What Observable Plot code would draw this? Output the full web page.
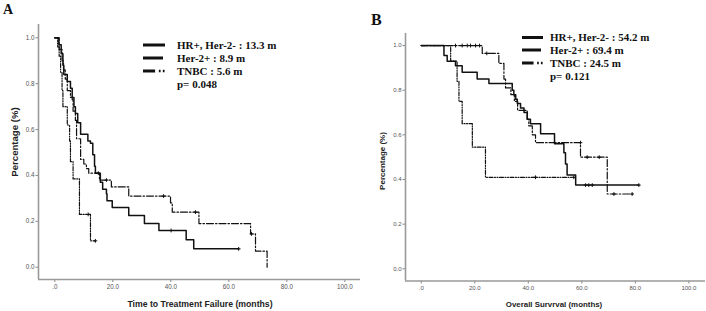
<!DOCTYPE html>
<html><head><meta charset="utf-8">
<script src="https://cdn.jsdelivr.net/npm/d3@7"></script>
<script src="https://cdn.jsdelivr.net/npm/@observablehq/plot@0.6"></script>
<style>
body{margin:0;background:#fff;}
#wrap{position:relative;width:706px;height:311px;overflow:hidden;background:#fff;}
.panel{position:absolute;top:0;}
.serif{position:absolute;font-family:"Liberation Serif","Times New Roman",serif;font-weight:bold;color:#111;white-space:nowrap;line-height:1;}
.sans{position:absolute;font-family:"Liberation Sans",Arial,sans-serif;font-weight:bold;color:#222;white-space:nowrap;line-height:1;}
</style></head><body><div id="wrap"></div>
<script>
// ---------- data ----------
const seriesNames = ["HR+, Her-2-", "Her-2+", "TNBC"];
const ttfMedians = ["13.3 m", "8.9 m", "5.6 m"];
const ttfP = "p= 0.048";
const osMedians = ["54.2 m", "69.4 m", "24.5 m"];
const osP = "p= 0.121";
const xTicks = [0, 20, 40, 60, 80, 100];
const yTicks = [0, 0.2, 0.4, 0.6, 0.8, 1.0];
const ttfTitle = "Time to Treatment Failure (months)";
const osTitle = "Overall Survrval (months)";
const yTitle = "Percentage (%)";

// Time to treatment failure: [month, survival] steps, last entry = end of follow-up
const ttfHR = [[0,1],[1.4,0.97],[2.2,0.93],[2.8,0.88],[3.1,0.84],[4.3,0.81],[5.4,0.78],[6.0,0.74],[6.6,0.70],[7.1,0.67],[7.9,0.63],[8.9,0.58],[11.4,0.55],[12.3,0.54],[13.1,0.49],[13.7,0.44],[14.0,0.41],[15.7,0.37],[16.5,0.34],[17.8,0.32],[18.0,0.29],[19.8,0.26],[25.5,0.225],[30.9,0.19],[35.9,0.16],[45.3,0.12],[47.9,0.08],[63.4,0.08]];
const ttfHer2 = [[0,1],[1.5,0.95],[2.5,0.9],[3.0,0.86],[3.6,0.82],[4.3,0.77],[5.4,0.74],[6.0,0.73],[6.3,0.68],[7.1,0.64],[7.5,0.56],[8.9,0.47],[10.0,0.45],[10.9,0.43],[11.7,0.41],[15.4,0.38],[19.5,0.35],[25.5,0.31],[39.9,0.28],[40.5,0.24],[49.7,0.19],[67.5,0.145],[69.2,0.07],[73.2,0.0],[73.2,0.0]];
const ttfTNBC = [[0,1],[1.0,0.96],[1.5,0.92],[2.0,0.85],[2.5,0.77],[2.8,0.70],[4.3,0.62],[5.1,0.55],[5.4,0.46],[6.3,0.385],[8.5,0.23],[12.3,0.115],[14.0,0.115]];
const ttfHRCens = [[40.1,0.16],[63.4,0.08]];
const ttfHer2Cens = [[15.0,0.41],[17.8,0.38],[37.5,0.31],[48.5,0.24],[67.8,0.145]];
const ttfTNBCCens = [[11.5,0.23],[14.0,0.115]];

// Overall survival
const osHR = [[0,1],[8.5,0.955],[9.7,0.93],[12.8,0.91],[15.3,0.88],[20.9,0.85],[25.3,0.83],[34.0,0.80],[34.6,0.78],[35.3,0.76],[35.9,0.74],[37.1,0.72],[38.4,0.70],[39.6,0.67],[40.8,0.65],[44.6,0.605],[49.8,0.56],[53.3,0.52],[53.9,0.47],[54.5,0.42],[57.7,0.375],[81.3,0.375]];
const osHer2 = [[0,1],[22.8,0.965],[29.0,0.92],[30.9,0.85],[31.5,0.81],[33.5,0.78],[34.8,0.75],[36.0,0.71],[39.6,0.67],[40.2,0.64],[41.5,0.60],[42.7,0.565],[59.5,0.50],[69.5,0.335],[78.8,0.335]];
const osTNBC = [[0,1],[11.0,0.93],[13.4,0.84],[14.1,0.75],[15.3,0.65],[19.1,0.545],[24.0,0.41],[57.0,0.41]];
const osHRCens = [[61.4,0.375],[62.6,0.375],[63.9,0.375],[81.3,0.375]];
const osHer2Cens = [[12.8,1],[15.3,1],[17.2,1],[18.4,1],[20.3,1],[21.8,1],[24.5,0.965],[59.5,0.565],[62.0,0.5],[66.5,0.5],[72.0,0.335],[78.8,0.335]];
const osTNBCCens = [[42.7,0.41],[57.0,0.41]];

// ---------- drawing ----------
const styles = [
  {strokeWidth: 1.5, strokeDasharray: null},
  {strokeWidth: 1.2, strokeDasharray: "7,2,1.5,2"},
  {strokeWidth: 1.2, strokeDasharray: "4,1.5,1,1.5,1,1.5"}
];
const toRows = arr => arr.map(([t, s]) => ({t, s}));

function panel(o) {
  const marks = [
    Plot.axisX({ticks: xTicks, tickFormat: d => d === 0 ? ".0" : d.toFixed(1), tickSize: 3, tickPadding: 2, label: null, stroke: "#888"}),
    Plot.axisY({ticks: yTicks, tickFormat: d => d.toFixed(1), tickSize: 2.5, tickPadding: 1.5, label: null, stroke: "#888"}),
    Plot.ruleX([o.xDomain[0]], {stroke: "#999", strokeWidth: 1.6}),
    Plot.ruleY([o.yDomain[0]], {stroke: "#999", strokeWidth: 1.6})
  ];
  o.curves.forEach((c, i) => {
    const st = styles[i];
    marks.push(Plot.line(toRows(c), {x: "t", y: "s", curve: "step-after", stroke: "#111", strokeWidth: st.strokeWidth, strokeDasharray: st.strokeDasharray}));
  });
  o.cens.forEach(c => {
    marks.push(Plot.dot(toRows(c), {x: "t", y: "s", symbol: "plus", r: 1.3, stroke: "#111", strokeWidth: 1}));
  });
  const p = Plot.plot({
    width: o.width, height: 311,
    marginLeft: o.mL, marginRight: o.mR, marginTop: o.mT, marginBottom: o.mB,
    x: {domain: o.xDomain},
    y: {domain: o.yDomain},
    style: {fontFamily: "'Liberation Sans', Arial, sans-serif", fontSize: o.fs + "px", color: "#555", background: "transparent"},
    marks
  });
  p.classList.add("panel");
  p.style.left = o.left + "px";
  return p;
}

const wrap = document.getElementById("wrap");
wrap.appendChild(panel({left: 0, width: 362, mL: 38, mR: 2, mT: 24, mB: 32,
  xDomain: [-5.62, 105.4], yDomain: [-0.0536, 1.058], fs: 6.3,
  curves: [ttfHR, ttfHer2, ttfTNBC], cens: [ttfHRCens, ttfHer2Cens, ttfTNBCCens]}));
wrap.appendChild(panel({left: 360, width: 346, mL: 45, mR: 1, mT: 33, mB: 30.5,
  xDomain: [-5.87, 106.2], yDomain: [-0.0546, 1.054], fs: 6,
  curves: [osHR, osHer2, osTNBC], cens: [osHRCens, osHer2Cens, osTNBCCens]}));

function addText(cls, txt, css) {
  const d = document.createElement("div");
  d.className = cls; d.textContent = txt;
  Object.assign(d.style, css);
  wrap.appendChild(d);
  return d;
}
// panel letters
addText("serif", "A", {left: "3px", top: "3px", fontSize: "14px"});
addText("serif", "B", {left: "371px", top: "12px", fontSize: "16px"});
// axis titles
addText("sans", ttfTitle, {left: "200px", top: "304px", fontSize: "8.7px", transform: "translate(-50%,-50%)"});
addText("sans", osTitle, {left: "554px", top: "305px", fontSize: "7.9px", transform: "translate(-50%,-50%)"});
addText("sans", yTitle, {left: "15px", top: "142px", fontSize: "9.6px", transform: "translate(-50%,-50%) rotate(-90deg)"});
addText("sans", yTitle, {left: "383px", top: "161px", fontSize: "8px", transform: "translate(-50%,-50%) rotate(-90deg)"});

// legends
function legend(x0, xText, rows, medians, pText, fs, lw) {
  const ns = "http://www.w3.org/2000/svg";
  const svg = document.createElementNS(ns, "svg");
  svg.setAttribute("width", 706); svg.setAttribute("height", 311);
  svg.style.position = "absolute"; svg.style.left = "0"; svg.style.top = "0";
  const ln = (x1, x2, y, w) => {
    const l = document.createElementNS(ns, "line");
    l.setAttribute("x1", x1); l.setAttribute("x2", x2); l.setAttribute("y1", y); l.setAttribute("y2", y);
    l.setAttribute("stroke", "#111"); l.setAttribute("stroke-width", w);
    svg.appendChild(l);
  };
  ln(x0, x0 + lw, rows[0], 3);
  ln(x0, x0 + lw - 2, rows[1], 3);
  ln(x0, x0 + lw * 0.55, rows[2], 3);
  ln(x0 + lw * 0.72, x0 + lw * 0.8, rows[2], 2.5);
  ln(x0 + lw * 0.9, x0 + lw * 0.98, rows[2], 2.5);
  wrap.appendChild(svg);
  seriesNames.forEach((n, i) => {
    addText("serif", n + " : " + medians[i], {left: xText + "px", top: (rows[i] - fs * 0.5) + "px", fontSize: fs + "px"});
  });
  addText("serif", pText, {left: xText + "px", top: (rows[3] - fs * 0.5) + "px", fontSize: fs + "px"});
}
legend(143, 177, [45, 58, 71, 84], ttfMedians, ttfP, 11, 22);
legend(522, 550, [37.5, 50, 63, 76], osMedians, osP, 11, 21);
</script></body></html>
